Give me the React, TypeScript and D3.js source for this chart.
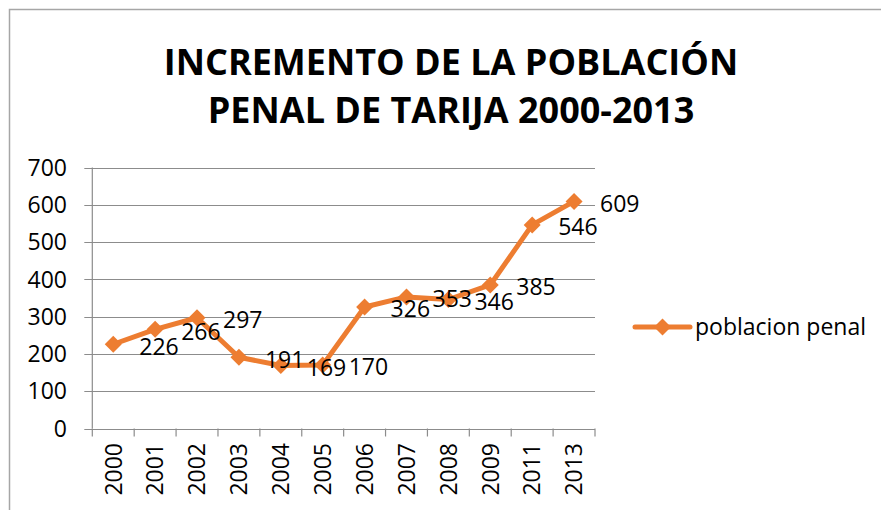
import React, { useEffect, useRef } from "react";
import * as d3 from "d3";

const years = ["2000", "2001", "2002", "2003", "2004", "2005", "2006", "2007", "2008", "2009", "2011", "2013"];
const poblacion = [226, 266, 297, 191, 169, 170, 326, 353, 346, 385, 546, 609];
const yTicks = [0, 100, 200, 300, 400, 500, 600, 700];
const titleLines = ["INCREMENTO DE LA POBLACIÓN", "PENAL DE TARIJA 2000-2013"];
const seriesName = "poblacion penal";

const ORANGE = "#ED7D31";
const GRID = "#8c8c8c";
const FONT = "'Open Sans', sans-serif";

const App = () => {
  const svgRef = useRef<SVGSVGElement>(null);

  useEffect(() => {
    const width = 881;
    const height = 510;
    const svg = d3.select(svgRef.current).attr("width", width).attr("height", height);
    svg.selectAll("*").remove();

    // outer chart border (only top and left visible)
    svg.append("path")
      .attr("d", `M9.5,${height} V9.5 H${width}`)
      .attr("fill", "none")
      .attr("stroke", "#a6a6a6")
      .attr("stroke-width", 1.5);

    // title
    svg.append("text")
      .attr("text-anchor", "middle")
      .style("font-family", FONT)
      .style("font-weight", "bold")
      .style("font-size", "36px")
      .attr("fill", "#000")
      .selectAll("tspan")
      .data(titleLines)
      .join("tspan")
      .attr("x", 451)
      .attr("y", (d, i) => 75 + i * 48)
      .text((d) => d);

    const left = 92.3;
    const right = 595;
    const top = 167.5;
    const bottom = 428.5;

    const x = d3.scaleBand().domain(years).range([left, right]);
    const y = d3.scaleLinear().domain([0, 700]).range([bottom, top]);

    // gridlines + y ticks
    svg.append("g")
      .selectAll("line")
      .data(yTicks)
      .join("line")
      .attr("x1", left - 8)
      .attr("x2", right)
      .attr("y1", (d) => Math.round(y(d)) + 0.5)
      .attr("y2", (d) => Math.round(y(d)) + 0.5)
      .attr("stroke", GRID)
      .attr("stroke-width", 1.2);

    svg.append("g")
      .selectAll("text")
      .data(yTicks)
      .join("text")
      .attr("x", 67)
      .attr("y", (d) => y(d))
      .attr("dy", "0.36em")
      .attr("text-anchor", "end")
      .style("font-family", FONT)
      .style("font-size", "23px")
      .attr("fill", "#000")
      .text((d) => d);

    // y axis line
    svg.append("line")
      .attr("x1", left).attr("x2", left)
      .attr("y1", top).attr("y2", bottom)
      .attr("stroke", GRID)
      .attr("stroke-width", 1.2);

    // x ticks at band boundaries
    const bounds = years.map((d) => x(d) as number).concat([right]);
    svg.append("g")
      .selectAll("line")
      .data(bounds)
      .join("line")
      .attr("x1", (d) => d)
      .attr("x2", (d) => d)
      .attr("y1", bottom)
      .attr("y2", bottom + 8)
      .attr("stroke", GRID)
      .attr("stroke-width", 1.2);

    // x labels, rotated
    svg.append("g")
      .selectAll("text")
      .data(years)
      .join("text")
      .attr("transform", (d) => `translate(${(x(d) as number) + x.bandwidth() / 2},443) rotate(-90)`)
      .attr("dy", "0.36em")
      .attr("text-anchor", "end")
      .style("font-family", FONT)
      .style("font-size", "23px")
      .attr("fill", "#000")
      .text((d) => d);

    const cx = (i: number) => (x(years[i]) as number) + x.bandwidth() / 2;

    const line = d3.line<number>()
      .x((d, i) => cx(i))
      .y((d) => y(d));

    svg.append("path")
      .datum(poblacion)
      .attr("d", line)
      .attr("fill", "none")
      .attr("stroke", ORANGE)
      .attr("stroke-width", 5)
      .attr("stroke-linejoin", "round");

    const diamond = (px: number, py: number, r: number) =>
      `M${px},${py - r}L${px + r},${py}L${px},${py + r}L${px - r},${py}Z`;

    svg.append("g")
      .selectAll("path")
      .data(poblacion)
      .join("path")
      .attr("d", (d, i) => diamond(cx(i), y(d), 8.5))
      .attr("fill", ORANGE);

    // data labels, to the right of each point
    svg.append("g")
      .selectAll("text")
      .data(poblacion)
      .join("text")
      .attr("x", (d, i) => cx(i) + 26)
      .attr("y", (d) => y(d) + 2)
      .attr("dy", "0.36em")
      .style("font-family", FONT)
      .style("font-size", "23px")
      .attr("fill", "#000")
      .text((d) => d);

    // legend
    const ly = 327;
    svg.append("line")
      .attr("x1", 635).attr("x2", 690)
      .attr("y1", ly).attr("y2", ly)
      .attr("stroke", ORANGE)
      .attr("stroke-width", 5)
      .attr("stroke-linecap", "round");
    svg.append("path")
      .attr("d", diamond(662.5, ly, 8.5))
      .attr("fill", ORANGE);
    svg.append("text")
      .attr("x", 695)
      .attr("y", ly)
      .attr("dy", "0.36em")
      .style("font-family", FONT)
      .style("font-size", "23px")
      .attr("fill", "#000")
      .text(seriesName);
  }, []);

  return (
    <svg
      ref={svgRef}
      style={{ position: "absolute", left: 0, top: 0, background: "#fff" }}
    ></svg>
  );
};

export default App;
